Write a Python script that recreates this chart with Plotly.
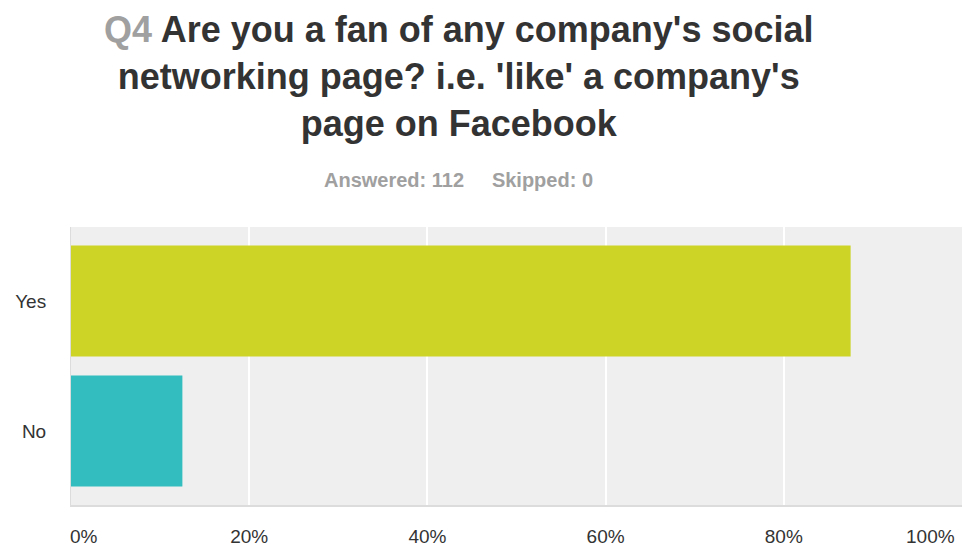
import plotly.graph_objects as go

# Survey question Q4 — share of respondents per answer choice
question_no = "Q4"
question_lines = [
    "Are you a fan of any company's social",
    "networking page? i.e. 'like' a company's",
    "page on Facebook",
]
answered = 112
skipped = 0
choices = ["Yes", "No"]
percent = [87.5, 12.5]
bar_colors = ["#cdd426", "#33bdbf"]
tick_values = [0, 20, 40, 60, 80, 100]
tick_labels = ["0%", "20%", "40%", "60%", "80%", "100%"]

FONT = "Liberation Sans, Arial, sans-serif"
W, H = 966, 548
L, R, T, B = 71, 4, 227, 43
PW, PH = W - L - R, H - T - B

# category spacing: bars fill ~85% of a slot, with equal padding above,
# between and below the bars
BAR_FILL = 0.854
CAT_PAD = 0.569


def px_x(x):
    """page pixel column -> paper x"""
    return (x - L) / PW


def px_y(y):
    """page pixel row -> paper y"""
    return 1 + (T - y) / PH


fig = go.Figure(
    go.Bar(
        x=percent,
        y=choices,
        orientation="h",
        marker=dict(color=bar_colors, line=dict(width=0)),
        hoverinfo="skip",
    )
)

fig.update_layout(
    width=W,
    height=H,
    margin=dict(l=L, r=R, t=T, b=B),
    paper_bgcolor="white",
    plot_bgcolor="#efefef",
    bargap=1 - BAR_FILL,
    showlegend=False,
)

# inner tick labels follow the gridlines; the end labels sit inside the plot edges
inner = slice(1, -1)
fig.update_xaxes(
    range=[0, 100],
    tickvals=tick_values[inner],
    ticktext=tick_labels[inner],
    showgrid=True,
    gridcolor="white",
    gridwidth=1.5,
    zeroline=False,
    showline=True,
    linecolor="#dcdcdc",
    linewidth=2,
    ticks="",
    ticklabelstandoff=13,
    automargin=False,
    tickfont=dict(family=FONT, size=19, color="#333333"),
    fixedrange=True,
)
fig.update_yaxes(
    categoryorder="array",
    categoryarray=choices[::-1],
    range=[-CAT_PAD, len(choices) - 1 + CAT_PAD],
    showgrid=False,
    zeroline=False,
    showline=True,
    linecolor="#dcdcdc",
    linewidth=1,
    ticks="",
    ticklabelstandoff=20,
    automargin=False,
    tickfont=dict(family=FONT, size=19, color="#333333"),
    fixedrange=True,
)

for val, lab, anchor in [
    (tick_values[0], tick_labels[0], "left"),
    (tick_values[-1], tick_labels[-1], "right"),
]:
    fig.add_annotation(
        x=val,
        xref="x",
        y=0,
        yref="paper",
        yanchor="middle",
        yshift=-31,
        xanchor=anchor,
        xshift=-3 if anchor == "left" else -5,
        text=lab,
        showarrow=False,
        font=dict(family=FONT, size=19, color="#333333"),
    )

# question heading
title_text = (
    f"<span style='color:#a0a0a0'>{question_no}</span> "
    + "<br>".join(question_lines)
)
fig.add_annotation(
    x=px_x(458),
    xref="paper",
    y=px_y(7),
    yref="paper",
    xanchor="center",
    yanchor="top",
    text=f"<b>{title_text}</b>",
    showarrow=False,
    align="center",
    font=dict(family=FONT, size=36, color="#333333"),
)

# response counts
fig.add_annotation(
    x=px_x(458),
    xref="paper",
    y=px_y(180),
    yref="paper",
    xanchor="center",
    yanchor="middle",
    text=f"<b>Answered: {answered}</b>&nbsp;&nbsp;&nbsp;&nbsp;&nbsp;<b>Skipped: {skipped}</b>",
    showarrow=False,
    font=dict(family=FONT, size=20, color="#a0a0a0"),
)

fig.write_html("out.html")
